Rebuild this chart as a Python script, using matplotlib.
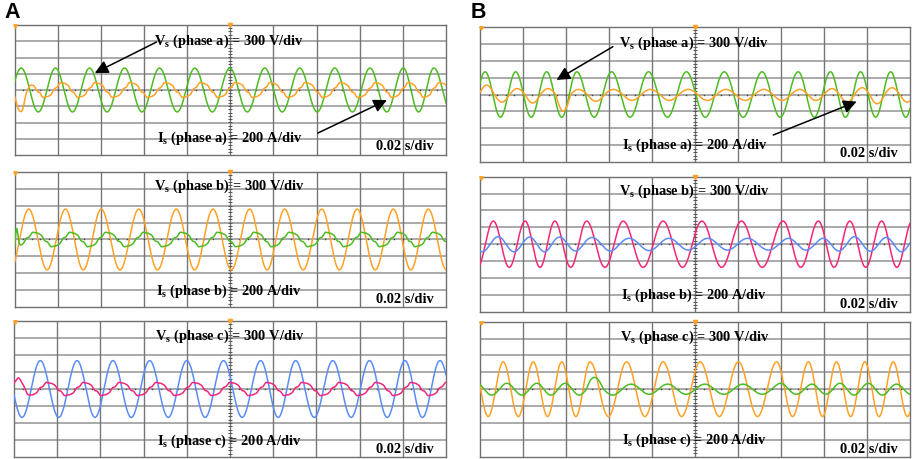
import numpy as np
import matplotlib.pyplot as plt

plt.rcParams['mathtext.fontset'] = 'custom'
plt.rcParams['mathtext.rm'] = 'Liberation Serif:bold'
plt.rcParams['mathtext.bf'] = 'Liberation Serif:bold'

GREEN = '#4dbb22'
ORANGE = '#ffa126'
BLUE = '#5b8cf5'
PINK = '#f5267a'
VGRID = '#767676'
HGRID = '#9c9c9c'

# scope screen: 10 x-divisions (0.02 s/div), 8 y-divisions
# peaks of the voltage trace in x-divisions (one extra beyond each edge)
peaks_A_a = [-0.65, 0.155, 0.95, 1.74, 2.55, 3.36, 4.18, 4.99, 5.80, 6.61, 7.42, 8.24, 9.01, 9.72, 10.52]
peaks_A_b = [-0.52, 0.33, 1.18, 2.01, 2.88, 3.75, 4.60, 5.45, 6.26, 7.12, 7.94, 8.78, 9.59, 10.43]
peaks_A_c = [-0.24, 0.61, 1.46, 2.29, 3.14, 4.00, 4.85, 5.71, 6.52, 7.38, 8.23, 9.05, 9.86, 10.7]
peaks_B_a = [-0.6, 0.12, 0.83, 1.55, 2.25, 3.06, 3.92, 4.80, 5.68, 6.56, 7.40, 8.15, 8.85, 9.55, 10.25]
peaks_B_b = [-0.43, 0.31, 1.05, 1.74, 2.48, 3.33, 4.26, 5.16, 6.08, 7.05, 7.87, 8.60, 9.34, 10.05]
peaks_B_c = [-0.16, 0.54, 1.24, 1.90, 2.56, 3.41, 4.26, 5.12, 6.01, 6.90, 7.64, 8.29, 8.95, 9.61, 10.27]

# voltage amplitudes (div)
v_amp_A = [1.35, 1.80, 1.67]
v_amp_B = [1.34, 1.37, 1.62]

# current: lag behind voltage (cycles), amplitude (div)
i_lag_A = [0.21, 0.18, 0.23]
i_amp_A = [0.45, 0.42, 0.38]
i_lag_B = [0.05, 0.15, 0.12]
# B currents, amplitude per half cycle (peak, trough, peak, ...)
i_amp_B_a = [0.5, 0.5, 0.55, 0.45, 0.35, 0.5, 0.35, 0.98, 0.3, 0.4, 0.3, 0.35, 0.3, 0.35,
             0.3, 0.35, 0.3, 0.35, 0.3, 0.35, 0.3, 0.35, 0.35, 0.45, 0.4, 0.55, 0.4, 0.45, 0.4, 0.4]
i_amp_B_b = [0.45, 0.45, 0.45, 0.45, 0.42, 0.45, 0.42, 0.4, 0.4, 0.4, 0.35, 0.38, 0.35, 0.35,
             0.35, 0.35, 0.35, 0.35, 0.35, 0.35, 0.35, 0.4, 0.45, 0.42, 0.4, 0.45, 0.42, 0.4]
i_amp_B_c = [0.35, 0.35, 0.35, 0.35, 0.35, 0.35, 0.35, 0.35, 0.7, 0.35, 0.3, 0.3, 0.3, 0.3,
             0.3, 0.3, 0.3, 0.3, 0.35, 0.3, 0.3, 0.3, 0.35, 0.35, 0.35, 0.35, 0.3, 0.3, 0.3, 0.3]

# harmonic ripple on the A currents: order, relative size, phase (cycles)
harm_order = [5, 7]
harm_size = [0.09, 0.05]
harm_phase = [0.30, 0.65]

# start-up transient on the A currents: height (div), position (div)
trans_h = [-1.45, 1.05, 0.5]
trans_x = [0.155, 0.05, 0.14]

colors_A = [(GREEN, ORANGE), (ORANGE, GREEN), (BLUE, PINK)]
colors_B = [(GREEN, ORANGE), (PINK, BLUE), (ORANGE, GREEN)]
phase_names = ['a', 'b', 'c']

# panel boxes in pixels: left, top, width, height
boxes_A = [(14.5, 25, 431.5, 130), (14.5, 172, 431.5, 135), (14, 321, 432, 136)]
boxes_B = [(480, 26.7, 430, 135.6), (480, 176.7, 430, 135), (480, 321.7, 430, 135)]
# label y-positions (div) for the V and I labels
vlab_y = [3.0, 3.15, 3.1]
ilab_y = [-3.0, -3.05, -3.05]

W, H = 913, 459
x = np.linspace(0, 10, 2000)


def cycles(peaks):
    return np.interp(x, peaks, np.arange(len(peaks)))


def current(p, lag, amp, harmonics=False, th=0.0, tx=0.1):
    pc = p - lag
    if np.ndim(amp):
        amp = np.asarray(amp)
        idx = np.clip(np.round(2 * pc).astype(int), 0, len(amp) - 1)
        a = amp[idx]
    else:
        a = amp
    y = np.cos(2 * np.pi * pc)
    if harmonics:
        for k, s, ph in zip(harm_order, harm_size, harm_phase):
            y = y + s * np.cos(2 * np.pi * (k * pc + ph))
    y = a * y
    if th:
        y = y + th * (x / tx) * np.exp(1 - x / tx) * np.exp(-(x / tx - 1) ** 2)
    return y


def screen(ax):
    ax.set_xlim(0, 10)
    ax.set_ylim(-4, 4)
    for yi in range(-3, 4):
        ax.axhline(yi, color=HGRID, lw=1.2, zorder=1)
    for xi in range(1, 10):
        ax.axvline(xi, color=VGRID, lw=1.0, zorder=1)
    # minor ticks on the centre cross
    mx = np.arange(0.2, 10, 0.2)
    ax.plot(mx, np.zeros_like(mx), ls='none', marker='s', ms=1.0, mew=0, color='#444444', zorder=2)
    my = np.arange(-3.8, 4, 0.2)
    ax.plot(np.full_like(my, 5), my, ls='none', marker='_', ms=3, mew=0.7, color='#555555', zorder=2)
    ax.set_xticks([])
    ax.set_yticks([])
    for s in ax.spines.values():
        s.set_color('#707070')
        s.set_linewidth(1.0)
    ax.plot([5], [4], marker='v', ms=3, color=ORANGE, clip_on=False, zorder=5)
    ax.plot([0.02], [3.95], marker='v', ms=2.5, color=ORANGE, clip_on=False, zorder=5)


def labels(ax, ph, vy, iy):
    kw = dict(fontfamily='Liberation Serif', fontweight='bold', fontsize=10.4, ha='center', va='center', zorder=6)
    ax.text(4.98, vy, 'V$_\\mathrm{s}$ (phase %s) = 300 V/div' % ph, **kw)
    ax.text(4.98, iy, 'I$_\\mathrm{s}$ (phase %s) = 200 A/div' % ph, **kw)
    ax.text(9.05, iy - 0.5, '0.02 s/div', **kw)


fig = plt.figure(figsize=(W / 100, H / 100), dpi=100)

peaks_A = [peaks_A_a, peaks_A_b, peaks_A_c]
peaks_B = [peaks_B_a, peaks_B_b, peaks_B_c]
i_amp_B = [i_amp_B_a, i_amp_B_b, i_amp_B_c]
axes_A, axes_B = [], []

for k in range(3):
    l, t, w, h = boxes_A[k]
    ax = fig.add_axes([l / W, 1 - (t + h) / H, w / W, h / H])
    screen(ax)
    p = cycles(peaks_A[k])
    cv, ci = colors_A[k]
    ax.plot(x, v_amp_A[k] * np.cos(2 * np.pi * p), color=cv, lw=1.1, zorder=3)
    ax.plot(x, current(p, i_lag_A[k], i_amp_A[k], True, trans_h[k], trans_x[k]), color=ci, lw=1.1, zorder=4)
    labels(ax, phase_names[k], vlab_y[k], ilab_y[k])
    axes_A.append(ax)

for k in range(3):
    l, t, w, h = boxes_B[k]
    ax = fig.add_axes([l / W, 1 - (t + h) / H, w / W, h / H])
    screen(ax)
    p = cycles(peaks_B[k])
    cv, ci = colors_B[k]
    ax.plot(x, v_amp_B[k] * np.cos(2 * np.pi * p), color=cv, lw=1.1, zorder=3)
    ax.plot(x, current(p, i_lag_B[k], i_amp_B[k]), color=ci, lw=1.1, zorder=4)
    labels(ax, phase_names[k], vlab_y[k], ilab_y[k])
    axes_B.append(ax)

arrow = dict(arrowstyle='-|>', mutation_scale=20, lw=1.1, color='black', shrinkA=0, shrinkB=0)
axes_A[0].annotate('', xy=(1.86, 1.05), xytext=(3.29, 2.95), arrowprops=arrow, zorder=7)
axes_A[0].annotate('', xy=(8.63, -0.62), xytext=(7.03, -2.65), arrowprops=arrow, zorder=7)
axes_B[0].annotate('', xy=(1.78, 0.86), xytext=(3.09, 2.82), arrowprops=arrow, zorder=7)
axes_B[0].annotate('', xy=(8.76, -0.42), xytext=(6.82, -2.39), arrowprops=arrow, zorder=7)

fig.text(4 / W, 1 - 12 / H, 'A', fontfamily='Liberation Sans', fontweight='bold', fontsize=15.5, va='center')
fig.text(471 / W, 1 - 12 / H, 'B', fontfamily='Liberation Sans', fontweight='bold', fontsize=15.5, va='center')

fig.savefig('out.png', dpi=100)
